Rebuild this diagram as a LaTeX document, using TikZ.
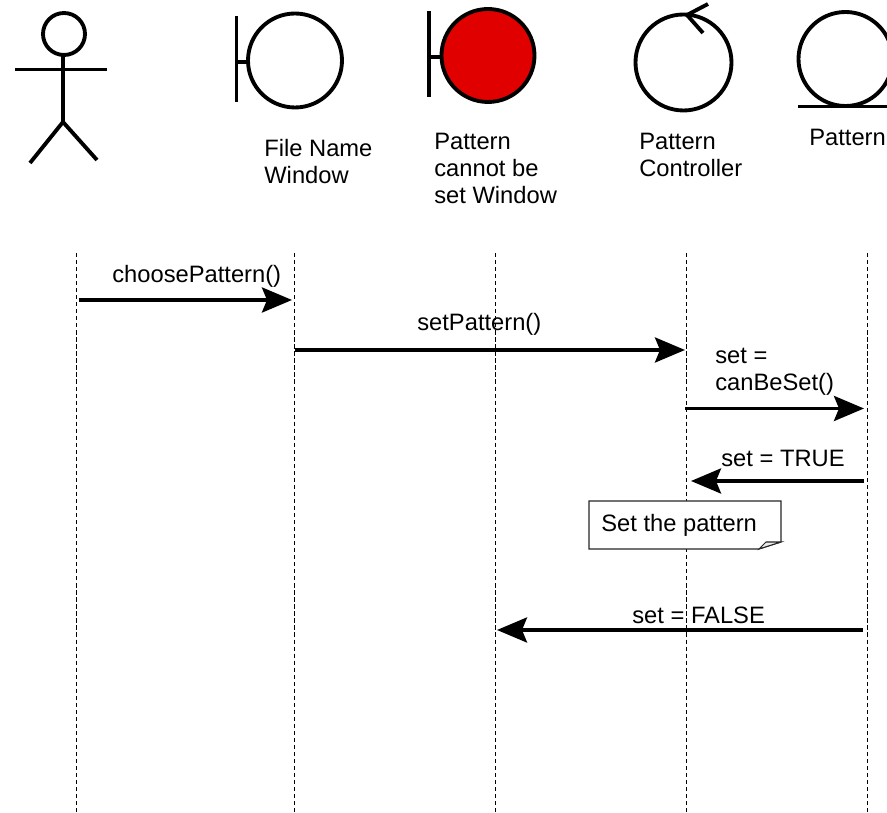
\documentclass[tikz,border=0pt]{standalone}
\usepackage{fontspec}
\setmainfont{Liberation Sans}
\usetikzlibrary{arrows.meta}
\definecolor{boundaryred}{HTML}{E00000}
\tikzset{icon/.style = {line width = 2.2pt, line cap = butt}}
\tikzset{lifeline/.style = {line width = 0.5pt, dash pattern = on 2.4pt off 1.6pt}}
\tikzset{message/.style = {line width = 2.1pt, -{Stealth[length = 0.6cm, width = 0.5cm, inset = 0.1cm]}}}
\tikzset{label/.style = {anchor = west, inner sep = 0pt, align = left, font = \fontsize{13.5}{15.4}\selectfont}}

\begin{document}
\begin{tikzpicture}[x = 0.02cm, y = -0.02cm]
\useasboundingbox (0,0) rectangle (887,813);
\draw [icon] (64,34) circle [radius = 21];
\draw [icon] (63,55) -- (63,122);
\draw [icon] (15,69.5) -- (107,69.5);
\draw [icon] (30,163) -- (63,122) -- (97,160);
\draw [icon] (236.5,16) -- (236.5,102);
\draw [icon] (236.5,62) -- (248,62);
\draw [icon] (295,60.5) circle [radius = 47];
\draw [icon] (429,11) -- (429,97);
\draw [icon] (429,57) -- (441,57);
\draw [icon, fill = boundaryred] (488,55.5) circle [radius = 46.5];
\draw [icon] (683.5,62.5) circle [radius = 48];
\draw [icon] (708,4) -- (687,15) -- (703,33);
\draw [icon] (845.5,59) circle [radius = 47];
\draw [icon] (798,106.5) -- (887,106.5);
\node [label] (windowlabel) at (264,162) {File Name\\Window};
\node [label] (cannotlabel) at (434,168.5) {Pattern\\cannot be\\set Window};
\node [label] (controllerlabel) at (639,155) {Pattern\\Controller};
\node [label] (patternlabel) at (809,137.5) {Pattern};
\foreach \name/\x in {actor/76, window/294, cannot/495, controller/686, pattern/867} {
  \coordinate (\name top) at (\x,253);
  \coordinate (\name bottom) at (\x,812);
  \draw [lifeline] (\name top) -- (\name bottom);
}
\coordinate (choosestart) at (79,300);
\coordinate (chooseend) at (292,300);
\coordinate (setstart) at (295,350);
\coordinate (setend) at (685,350);
\coordinate (canstart) at (685,408.5);
\coordinate (canend) at (864,408.5);
\coordinate (truestart) at (864,481);
\coordinate (trueend) at (691,481);
\coordinate (falsestart) at (863,630);
\coordinate (falseend) at (497,630);
\draw [message] (choosestart) -- (chooseend);
\draw [message] (setstart) -- (setend);
\draw [message] (canstart) -- (canend);
\draw [message] (truestart) -- (trueend);
\draw [message] (falsestart) -- (falseend);
\node [label] (chooselabel) at (112,276) {choosePattern()};
\node [label] (setlabel) at (417,324) {setPattern()};
\node [label] (canlabel) at (715,372) {set =\\canBeSet()};
\node [label] (truelabel) at (721,458) {set = TRUE};
\node [label] (falselabel) at (632,615) {set = FALSE};
\draw [fill = white, line width = 0.6pt, draw = black!85] (589,501) -- (781,501) -- (781,542) -- (759,549) -- (589,549) -- cycle;
\draw [fill = black!8, line width = 0.6pt, draw = black!85] (759,549) -- (766,542) -- (781,542) -- cycle;
\node [label] (notelabel) at (601,525.5) {Set the pattern};
\end{tikzpicture}
\end{document}
